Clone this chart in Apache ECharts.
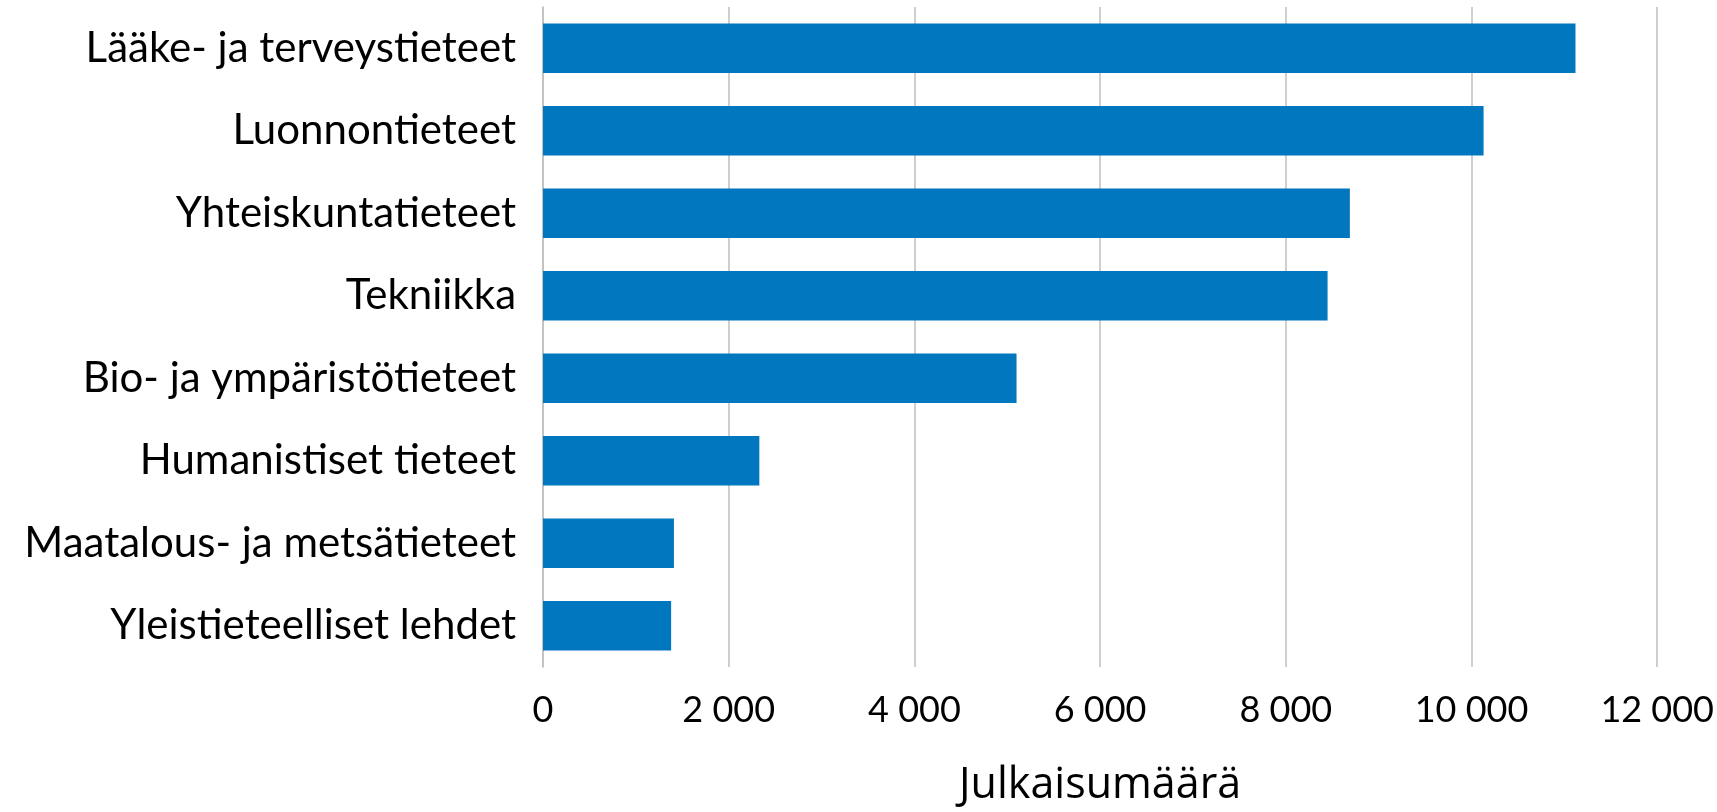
<!DOCTYPE html>
<html>
<head>
<meta charset="utf-8">
<script src="https://cdn.jsdelivr.net/npm/echarts@6/dist/echarts.min.js"></script>
<style>
    html, body { margin: 0; padding: 0; background: #fff; }
    #chart { width: 1717px; height: 812px; }
</style>
</head>
<body>
<div id="chart"></div>
<script>
var categories = [
    'Lääke- ja terveystieteet',
    'Luonnontieteet',
    'Yhteiskuntatieteet',
    'Tekniikka',
    'Bio- ja ympäristötieteet',
    'Humanistiset tieteet',
    'Maatalous- ja metsätieteet',
    'Yleistieteelliset lehdet'
];
var counts = [11120, 10130, 8690, 8450, 5100, 2330, 1410, 1380];
var axisTitle = 'Julkaisumäärä';

var myChart = echarts.init(document.getElementById('chart'));

// space as thousands separator, like the original
function formatNumber(value) {
    return String(value).replace(/\B(?=(\d{3})+(?!\d))/g, ' ');
}

var option = {
    backgroundColor: '#ffffff',
    textStyle: {
        fontFamily: 'Lato'
    },
    grid: {
        left: 543,
        right: 59,
        top: 7,
        bottom: 141
    },
    xAxis: {
        type: 'value',
        min: 0,
        max: 12000,
        interval: 2000,
        name: axisTitle,
        nameLocation: 'middle',
        nameGap: 97,
        nameMoveOverlap: false,
        nameTextStyle: {
            fontFamily: 'Open Sans',
            fontSize: 43,
            color: '#000'
        },
        axisLine: { show: false },
        axisTick: { show: false },
        axisLabel: {
            fontSize: 36,
            color: '#000',
            margin: 25,
            formatter: formatNumber
        },
        splitLine: {
            lineStyle: { color: '#bfbfbf', width: 1.5 }
        }
    },
    yAxis: {
        type: 'category',
        inverse: true,
        data: categories,
        axisLine: {
            lineStyle: { color: '#bfbfbf', width: 1.5 }
        },
        axisTick: { show: false },
        axisLabel: {
            fontSize: 42,
            color: '#000',
            margin: 27
        }
    },
    series: [{
        type: 'bar',
        data: counts,
        barCategoryGap: '40%',
        itemStyle: {
            color: '#0077be'
        },
        silent: true
    }],
    animation: false
};
myChart.setOption(option);
</script>
</body>
</html>
